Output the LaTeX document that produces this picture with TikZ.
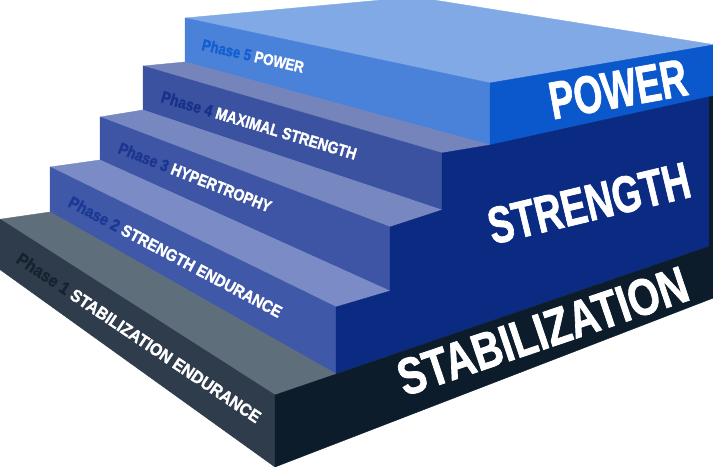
\documentclass[tikz,border=0pt]{standalone}
\usepackage{fontspec}
\setmainfont{Liberation Sans}[BoldFeatures={FakeBold=1.6}]
\usepackage{graphicx}
\definecolor{cAtop}{HTML}{5F6E7B}
\definecolor{cAfront}{HTML}{2E3C4C}
\definecolor{cAside}{HTML}{0C1C2B}
\definecolor{cBtop}{HTML}{7A8BC6}
\definecolor{cBfront}{HTML}{3F58A8}
\definecolor{cCtop}{HTML}{7787C0}
\definecolor{cCfront}{HTML}{3D55A4}
\definecolor{cDtop}{HTML}{7584BA}
\definecolor{cDfront}{HTML}{3B52A0}
\definecolor{cEtop}{HTML}{80A9E6}
\definecolor{cEfront}{HTML}{4A82DA}
\definecolor{cEside}{HTML}{0B58CC}
\definecolor{navy}{HTML}{0B2A82}
\definecolor{phA}{HTML}{17222F}
\definecolor{phB}{HTML}{1B3896}
\definecolor{phC}{HTML}{1B3590}
\definecolor{phD}{HTML}{18318A}
\definecolor{phE}{HTML}{135ED2}
\begin{document}
\begin{tikzpicture}[x=1bp,y=-1bp,
  face/.style={fill=#1,draw=#1,line width=0.4bp,line join=round},
  lbl/.style={inner sep=0pt,outer sep=0pt,anchor=south west,text=white,font=\bfseries}]
\useasboundingbox (0,0) rectangle (713,467);
\begin{scope}
\clip (0,0) rectangle (713,467);
% step 5 (power)
\filldraw[face=cEtop] (185,18) -- (415,-3) -- (760,52) -- (490,83) -- cycle;
\filldraw[face=cEfront] (185,18) -- (490,83) -- (490,145) -- (185,62) -- cycle;
\filldraw[face=cEside] (490,83) -- (760,37) -- (760,86) -- (490,145) -- cycle;
% step 4
\filldraw[face=cDtop] (143,66) -- (185,62) -- (490,145) -- (442,153) -- cycle;
\filldraw[face=cDfront] (143,66) -- (442,153) -- (442,210) -- (143,110) -- cycle;
% step 3
\filldraw[face=cCtop] (100,117) -- (143,110) -- (442,210) -- (390,227) -- cycle;
\filldraw[face=cCfront] (100,117) -- (390,227) -- (390,291) -- (100,160) -- cycle;
% step 2
\filldraw[face=cBtop] (50,167) -- (100,160) -- (390,291) -- (336,307) -- cycle;
\filldraw[face=cBfront] (50,167) -- (336,307) -- (336,374) -- (50,212) -- cycle;
% navy side of steps 2-4
\filldraw[face=navy] (336,374) -- (336,307) -- (390,291) -- (390,227) -- (442,210)
  -- (442,153) -- (490,145) -- (713,96) -- (713,245) -- cycle;
\fill[cAside] (709,97) -- (714,96) -- (714,246) -- (709,247) -- cycle;
% step 1
\filldraw[face=cAtop] (-5,220) -- (50,212) -- (336,374) -- (275,395) -- cycle;
\filldraw[face=cAfront] (-5,216) -- (275,395) -- (275,467) -- (-5,266) -- cycle;
\filldraw[face=cAside] (275,395) -- (760,229) -- (760,280) -- (275,467) -- cycle;
\end{scope}
% phase labels
\node[lbl,rotate=-33.9] (pA) at (15,262)
  {\resizebox{290bp}{12.5bp}{\textcolor{phA}{Phase 1} STABILIZATION ENDURANCE}};
\node[lbl,rotate=-28.0] (pB) at (67,206)
  {\resizebox{239bp}{12bp}{\textcolor{phB}{Phase 2} STRENGTH ENDURANCE}};
\node[lbl,rotate=-21.5] (pC) at (117,153)
  {\resizebox{163bp}{12bp}{\textcolor{phC}{Phase 3} HYPERTROPHY}};
\node[lbl,rotate=-16.6] (pD) at (160,102)
  {\resizebox{203bp}{12bp}{\textcolor{phD}{Phase 4} MAXIMAL STRENGTH}};
\node[lbl,rotate=-12.8] (pE) at (201,50)
  {\resizebox{104bp}{11.5bp}{\textcolor{phE}{Phase 5} POWER}};
% big side labels
\node[lbl,rotate=10.3] (power) at (553,120) {\resizebox{139bp}{37bp}{POWER}};
\node[lbl,rotate=13.5] (strength) at (493,245) {\resizebox{206bp}{36bp}{STRENGTH}};
\node[lbl,rotate=18.7] (stab) at (405,397) {\resizebox{303bp}{36bp}{STABILIZATION}};
\end{tikzpicture}
\end{document}
